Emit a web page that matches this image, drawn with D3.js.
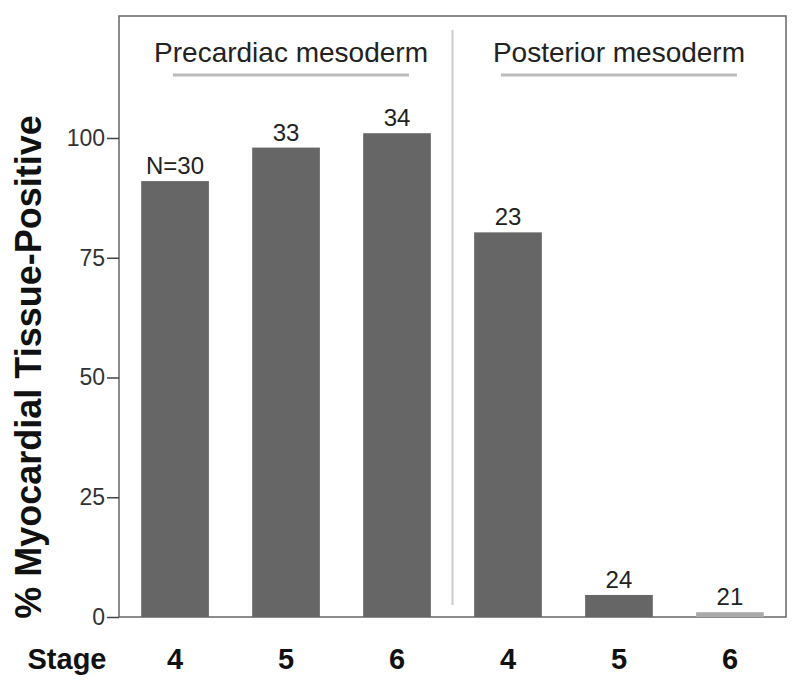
<!DOCTYPE html>
<html><head><meta charset="utf-8">
<script src="https://cdn.jsdelivr.net/npm/d3@7"></script>
<style>body{margin:0;background:#fff;}text{font-family:"Liberation Sans",Arial,sans-serif;}</style>
</head><body>
<svg id="chart" width="800" height="688"></svg>
<script>
const categories = ["P4","P5","P6","Q4","Q5","Q6"];
const stageLabels = ["4","5","6","4","5","6"];
const values = [91, 98, 101, 80.3, 4.6, 1];
const nLabels = ["N=30","33","34","23","24","21"];
const barColors = ["#666666","#666666","#666666","#666666","#666666","#aaaaaa"];
const groups = [{name:"Precardiac mesoderm", from:0, to:2},{name:"Posterior mesoderm", from:3, to:5}];
const yTicks = [0,25,50,75,100];

const svg = d3.select("#chart");
const L=119, R=786, T=16, B=617;
const x = d3.scaleBand().domain(categories).range([L, R]).paddingInner(0.39).paddingOuter(0.2);
const y = d3.scaleLinear().domain([0,100]).range([B, 138]);

// frame
svg.append("rect").attr("x",L).attr("y",T).attr("width",R-L).attr("height",B-T)
  .attr("fill","none").attr("stroke","#666").attr("stroke-width",1.5);

// divider
const divX = (x("P6")+x.bandwidth()+x("Q4"))/2;
svg.append("line").attr("x1",divX).attr("x2",divX).attr("y1",30).attr("y2",605)
  .attr("stroke","#ccc").attr("stroke-width",2);

// bars
svg.selectAll("rect.bar").data(values).enter().append("rect").attr("class","bar")
  .attr("x",(d,i)=>x(categories[i])).attr("width",x.bandwidth())
  .attr("y",d=>y(d)).attr("height",d=>B-y(d)).attr("fill",(d,i)=>barColors[i]);

// value labels
svg.selectAll("text.nl").data(values).enter().append("text").attr("class","nl")
  .attr("x",(d,i)=>x(categories[i])+x.bandwidth()/2).attr("y",d=>y(d)-7)
  .attr("text-anchor","middle").attr("font-size",24).attr("fill","#222")
  .text((d,i)=>nLabels[i]);

// y axis
const yAxis = d3.axisLeft(y).tickValues(yTicks).tickSize(12).tickPadding(2);
const ga = svg.append("g").attr("transform",`translate(${L},0)`).call(yAxis);
ga.select(".domain").remove();
ga.selectAll(".tick line").attr("stroke","#444").attr("stroke-width",1.5);
ga.selectAll(".tick text").attr("font-size",23).attr("fill","#333").style("font-family","Liberation Sans, Arial, sans-serif");

// y title
svg.append("text").attr("transform",`translate(41,367) rotate(-90)`)
  .attr("text-anchor","middle").attr("font-size",36).attr("font-weight","bold").attr("fill","#111")
  .text("% Myocardial Tissue-Positive");

// group labels
const labelShift = [5, 0];
groups.forEach((g,k)=>{
  const x0 = x(categories[g.from]), x1 = x(categories[g.to])+x.bandwidth();
  const cx = (x0+x1)/2 + labelShift[k];
  svg.append("text").attr("x",cx).attr("y",62).attr("text-anchor","middle")
    .attr("font-size",28).attr("fill","#222").text(g.name);
  svg.append("line").attr("x1",cx-118).attr("x2",cx+118).attr("y1",75).attr("y2",75)
    .attr("stroke","#bbb").attr("stroke-width",3);
});

// x labels
svg.append("text").attr("x",67).attr("y",669).attr("text-anchor","middle")
  .attr("font-size",29).attr("font-weight","bold").attr("fill","#111").text("Stage");
svg.selectAll("text.st").data(stageLabels).enter().append("text").attr("class","st")
  .attr("x",(d,i)=>x(categories[i])+x.bandwidth()/2).attr("y",669)
  .attr("text-anchor","middle").attr("font-size",29).attr("font-weight","bold").attr("fill","#111")
  .text(d=>d);
</script>
</body></html>
